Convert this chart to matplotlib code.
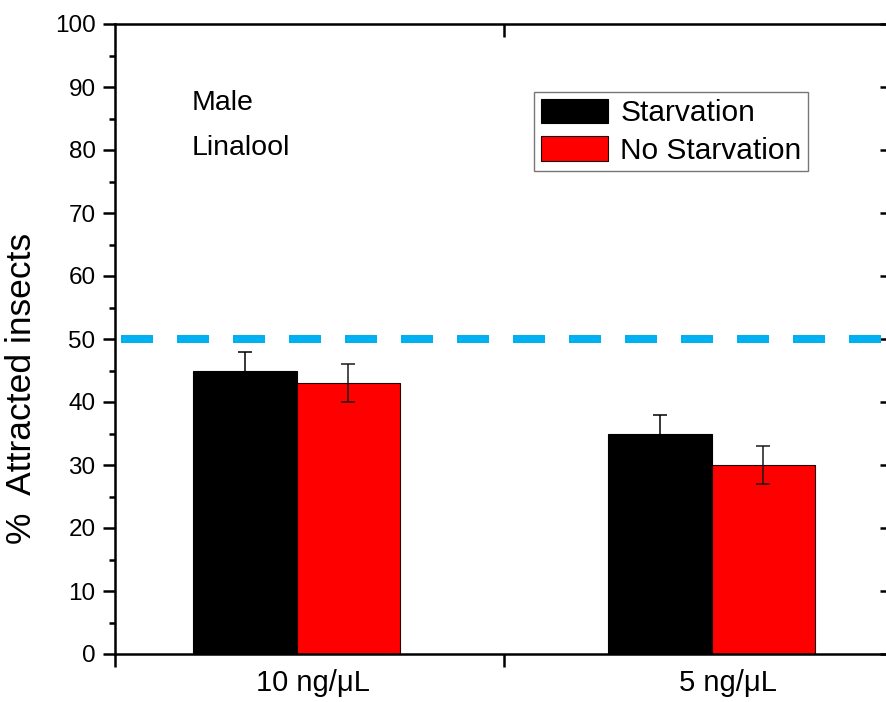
import matplotlib
matplotlib.use("Agg")
import matplotlib.pyplot as plt
import matplotlib.transforms as mtransforms
import numpy as np

plt.rcParams['font.family'] = ['Liberation Sans', 'DejaVu Sans']

categories = ["10 ng/\u03bcL", "5 ng/\u03bcL"]
series_names = ["Starvation", "No Starvation"]
starvation = [45, 35]
starvation_err = [3, 3]
no_starvation = [43, 30]
no_starvation_err = [3, 3]
reference_level = 50
y_ticks = [0, 10, 20, 30, 40, 50, 60, 70, 80, 90, 100]
annotation_lines = ["Male", "Linalool"]

W, H = 886, 702
fig = plt.figure(figsize=(W / 100, H / 100), dpi=100)
ax = fig.add_axes([115 / W, 48 / H, (888 - 115) / W, 630 / H])

x = np.arange(1, len(categories) + 1)
bw = 0.25
ax.bar(x - bw / 2, starvation, bw, color='black', edgecolor='black', linewidth=0.8,
       label=series_names[0], zorder=2)
ax.bar(x + bw / 2, no_starvation, bw, color='#ff0000', edgecolor='#200000', linewidth=0.8,
       label=series_names[1], zorder=2)
ax.errorbar(x - bw / 2, starvation, yerr=starvation_err, fmt='none', ecolor='black',
            elinewidth=1.1, capsize=4.7, capthick=1.1, zorder=3)
ax.errorbar(x + bw / 2, no_starvation, yerr=no_starvation_err, fmt='none', ecolor='#1a1a1a',
            elinewidth=1.1, capsize=4.7, capthick=1.1, zorder=3)

x0 = 1 - 181.5 / 415
x1 = 2 + 176.5 / 415
ax.set_xlim(x0, x1)
ax.set_ylim(0, 100)

lw = 5.76
ax.axhline(reference_level, color='#00b0f0', linewidth=lw, linestyle=(6.25, (4.0, 3.0)),
           zorder=4)

for s in ax.spines.values():
    s.set_linewidth(1.8)

# y axis
ax.set_yticks(y_ticks)
ax.set_yticks(np.arange(5, 100, 10), minor=True)
ax.tick_params(axis='y', which='major', direction='out', length=9, width=1.8,
               labelsize=17.5, pad=5)
ax.tick_params(axis='y', which='minor', direction='out', length=4.5, width=1.8)
ax.tick_params(axis='y', which='both', right=False)
axr = ax.secondary_yaxis('right')
axr.set_yticks(y_ticks)
axr.tick_params(direction='in', length=6, width=1.8, labelright=False)

# x axis
ax.set_xticks(x)
ax.set_xticklabels(categories)
ax.tick_params(axis='x', which='major', length=0, labelsize=21, pad=11)
shift = mtransforms.ScaledTranslation(16 / 100, 0, fig.dpi_scale_trans)
for lab in ax.get_xticklabels():
    lab.set_transform(lab.get_transform() + shift)
ax.set_xticks([x0, 1.5], minor=True)
ax.tick_params(axis='x', which='minor', direction='out', length=9.5, width=1.8)
axt = ax.secondary_xaxis('top')
axt.set_xticks([1.5])
axt.tick_params(direction='in', length=9.5, width=1.8, labeltop=False)

fig.text(22 / W, 1 - 388 / H, "%  Attracted insects", rotation=90, ha='center',
         va='center', fontsize=25.5)

ax.text(0.099, (654 - 110) / 630, annotation_lines[0], transform=ax.transAxes,
        fontsize=20.5, va='baseline', ha='left')
ax.text(0.099, (654 - 155) / 630, annotation_lines[1], transform=ax.transAxes,
        fontsize=20.5, va='baseline', ha='left')

leg = ax.legend(loc='upper left', bbox_to_anchor=((533 - 115) / 771, (654 - 92) / 630),
                borderaxespad=0, fontsize=21.5, frameon=True, fancybox=False,
                handlelength=2.25, handleheight=0.9, handletextpad=0.42,
                labelspacing=0.3, borderpad=0.22)
leg.get_frame().set_edgecolor('#555555')
leg.get_frame().set_linewidth(1.0)

fig.savefig("out.png", dpi=100)
